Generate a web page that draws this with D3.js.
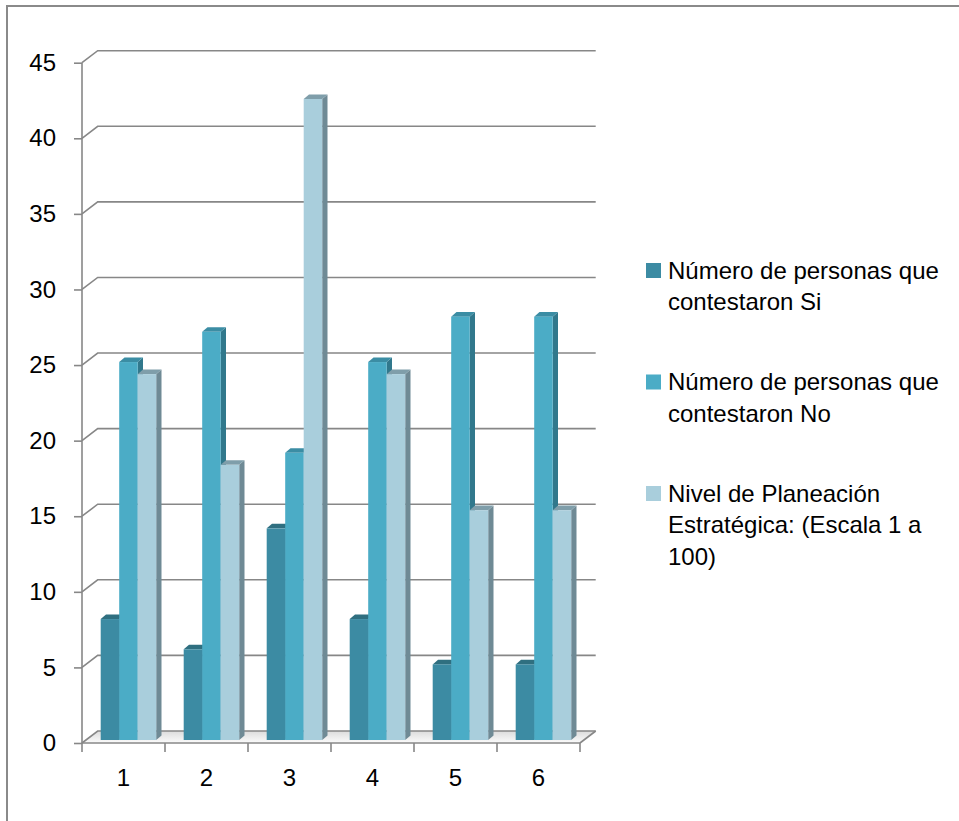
<!DOCTYPE html>
<html>
<head>
<meta charset="utf-8">
<script src="https://cdn.jsdelivr.net/npm/d3@7"></script>
<style>
  html, body { margin: 0; padding: 0; background: #fff; }
  svg { display: block; }
  text { font-family: "Liberation Sans", Arial, sans-serif; fill: #000; }
</style>
</head>
<body>
<svg id="chart" width="959" height="821"></svg>
<script>
// ---- data ----
const categories = ["1", "2", "3", "4", "5", "6"];
const seriesNames = [
  "Número de personas que contestaron Si",
  "Número de personas que contestaron No",
  "Nivel de Planeación Estratégica: (Escala 1 a 100)"
];
const si = [8, 6, 14, 8, 5, 5];
const no = [25, 27, 19, 25, 28, 28];
const nivel = [24.2, 18.2, 42.4, 24.2, 15.2, 15.2];
const yTicks = [0, 5, 10, 15, 20, 25, 30, 35, 40, 45];
const legendLines = [
  ["Número de personas que", "contestaron Si"],
  ["Número de personas que", "contestaron No"],
  ["Nivel de Planeación", "Estratégica: (Escala 1 a", "100)"]
];

// ---- styles ----
const fronts = ["#3C8BA3", "#4BACC6", "#A9CEDC"];
const sides  = ["#2E6E82", "#31788C", "#6F8A95"];
const tops   = ["#2F6F80", "#3B8DA4", "#7F9EAA"];
const gridColor = "#878787";

const svg = d3.select("#chart");

// outer border
svg.append("rect").attr("x", 7).attr("y", 6).attr("width", 1000).attr("height", 1000)
  .attr("fill", "none").attr("stroke", "#8a8a8a").attr("stroke-width", 2);

// scales
const y = d3.scaleLinear().domain([0, 45]).range([743, 62.7]);
const x = d3.scaleBand().domain(categories).range([82, 580]);
const DX = 15.7, DY = -12;          // wall depth
const bx = 4, by = -3;              // bar plane offset
const inner = d3.scaleBand().domain(d3.range(3)).range([14.7, 70.2]);
const BD = 5.3, BH = -4.6;          // bar 3d depth

// floor
const defs = svg.append("defs");
const grad = defs.append("linearGradient").attr("id", "floorGrad")
  .attr("x1", 0).attr("y1", 0).attr("x2", 0).attr("y2", 1);
grad.append("stop").attr("offset", 0).attr("stop-color", "#dcdcdc");
grad.append("stop").attr("offset", 1).attr("stop-color", "#fbfbfb");
const x0 = x.range()[0], x1 = x.range()[1];
svg.append("path")
  .attr("d", `M${x0},${y(0)}L${x1},${y(0)}L${x1 + DX},${y(0) + DY}L${x0 + DX},${y(0) + DY}Z`)
  .attr("fill", "url(#floorGrad)");

// gridlines (back wall) with diagonal from axis
const grid = svg.append("g").attr("stroke", gridColor).attr("stroke-width", 1.6).attr("fill", "none");
yTicks.forEach(v => {
  grid.append("path")
    .attr("d", `M${x0},${y(v)}L${x0 + DX},${y(v) + DY}L${x1 + DX},${y(v) + DY}`);
});
// floor right edge
grid.append("path").attr("d", `M${x1},${y(0)}L${x1 + DX},${y(0) + DY}`);

// y axis
const yAxisG = svg.append("g").attr("transform", `translate(${x0},0)`)
  .call(d3.axisLeft(y).tickValues(yTicks).tickSize(8).tickPadding(18));
yAxisG.select(".domain").attr("stroke", gridColor).attr("stroke-width", 1.6)
  .attr("d", `M0,${y(45)}V${y(0)}`);
yAxisG.selectAll(".tick line").attr("stroke", gridColor).attr("stroke-width", 1.6);
yAxisG.selectAll(".tick text").attr("font-size", 24).attr("font-family", "Liberation Sans, Arial, sans-serif").attr("fill", "#000");

// x axis
const xAxisG = svg.append("g").attr("transform", `translate(0,${y(0)})`)
  .call(d3.axisBottom(x).tickSize(0).tickPadding(26));
xAxisG.select(".domain").attr("stroke", gridColor).attr("stroke-width", 1.6)
  .attr("d", `M${x0},0H${x1}`);
xAxisG.selectAll(".tick text").attr("font-size", 24).attr("font-family", "Liberation Sans, Arial, sans-serif").attr("fill", "#000");
const xTickG = svg.append("g").attr("stroke", gridColor).attr("stroke-width", 1.6);
categories.concat(["end"]).forEach((c, i) => {
  const xx = i < categories.length ? x(c) : x1;
  xTickG.append("line").attr("x1", xx).attr("x2", xx).attr("y1", y(0)).attr("y2", y(0) + 9);
});

// bars
const series = [si, no, nivel];
const bars = svg.append("g");
categories.forEach((c, ci) => {
  series.forEach((vals, si_) => {
    const v = vals[ci];
    const left = x(c) + bx + inner(si_);
    const w = inner.bandwidth();
    const top = y(v) + by;
    const bottom = y(0) + by;
    // side
    bars.append("path")
      .attr("d", `M${left + w},${bottom}L${left + w + BD},${bottom + BH}L${left + w + BD},${top + BH}L${left + w},${top}Z`)
      .attr("fill", sides[si_]);
    // top
    bars.append("path")
      .attr("d", `M${left},${top}L${left + BD},${top + BH}L${left + w + BD},${top + BH}L${left + w},${top}Z`)
      .attr("fill", tops[si_]);
    // front
    bars.append("rect")
      .attr("x", left).attr("y", top).attr("width", w).attr("height", bottom - top)
      .attr("fill", fronts[si_]);
  });
});

// legend
const lg = svg.append("g");
const legendTop = [263, 374.5, 486];
legendLines.forEach((lines, i) => {
  lg.append("rect").attr("x", 646).attr("y", legendTop[i]).attr("width", 15).attr("height", 15)
    .attr("fill", fronts[i]);
  lines.forEach((t, li) => {
    lg.append("text").attr("x", 668).attr("y", legendTop[i] + 15.5 + li * 31.5)
      .attr("font-size", 24).text(t);
  });
});
</script>
</body>
</html>
